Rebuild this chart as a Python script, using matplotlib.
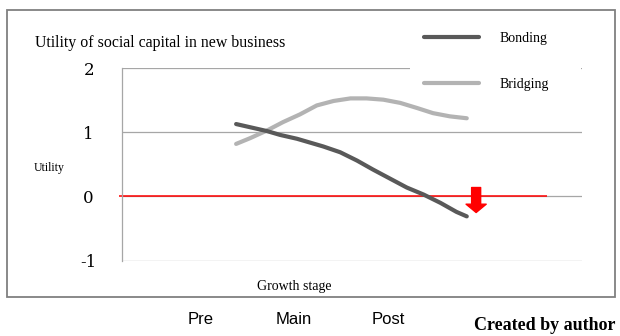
import matplotlib.pyplot as plt
import matplotlib.patches as mpatches
from matplotlib.lines import Line2D

# stage positions on the x axis (Pre = 0, Main = 1, Post = 2)
stages = ['Pre', 'Main', 'Post']
stage_pos = [0, 1, 2]

bonding_x = [0.38, 0.53, 0.71, 0.85, 1.03, 1.31, 1.49, 1.67, 1.84, 2.02, 2.20, 2.38, 2.56, 2.73, 2.84]
bonding_y = [1.13, 1.08, 1.02, 0.96, 0.90, 0.78, 0.69, 0.56, 0.42, 0.28, 0.14, 0.03, -0.10, -0.24, -0.31]

bridging_x = [0.38, 0.53, 0.71, 0.88, 1.06, 1.24, 1.42, 1.60, 1.77, 1.95, 2.13, 2.31, 2.48, 2.66, 2.84]
bridging_y = [0.82, 0.91, 1.03, 1.16, 1.28, 1.42, 1.49, 1.53, 1.53, 1.51, 1.46, 1.38, 1.30, 1.25, 1.22]

utility_ticks = [-1, 0, 1, 2]
utility_labels = ['-1', '0', '1', '2']

# red zero line and the drop arrow after Post
zero_line = (-0.87, 3.70)
drop_x = 2.94
drop_from, drop_to = 0.14, -0.25

SERIF = 'Liberation Serif'
DARK = '#595959'
LIGHT = '#b3b3b3'
GRID = '#a6a6a6'

fig = plt.figure(figsize=(6.2, 3.36), dpi=100)
ax = fig.add_axes([122 / 620, 1 - 261 / 336, 460 / 620, 193 / 336])

ax.set_xlim(-0.837, 4.069)
ax.set_ylim(-1.006, 2.004)

ax.yaxis.grid(True, color=GRID, linewidth=0.9)
ax.set_axisbelow(True)
for side in ['top', 'right', 'bottom']:
    ax.spines[side].set_visible(False)
ax.spines['left'].set_color(GRID)
ax.spines['left'].set_linewidth(0.9)
ax.spines['left'].set_bounds(-1, 2)

ax.plot(bonding_x, bonding_y, color=DARK, linewidth=3.0,
        solid_capstyle='round', solid_joinstyle='round', zorder=3)
ax.plot(bridging_x, bridging_y, color=LIGHT, linewidth=3.0,
        solid_capstyle='round', solid_joinstyle='round', zorder=2)

ax.hlines(0, zero_line[0], zero_line[1], color='#ff0000', linewidth=1.1,
          zorder=1.5, clip_on=False)

ax.annotate('', xy=(drop_x, drop_to), xytext=(drop_x, drop_from),
            arrowprops=dict(arrowstyle='simple,head_width=1.45,head_length=0.6,tail_width=0.65',
                            color='#ff0000', shrinkA=0, shrinkB=0, mutation_scale=10),
            zorder=4)

ax.set_yticks(utility_ticks)
ax.set_yticklabels(utility_labels, family='DejaVu Serif', fontsize=12)
ax.tick_params(axis='y', length=0, pad=24)
for lbl in ax.get_yticklabels():
    lbl.set_horizontalalignment('center')

ax.set_xticks(stage_pos)
ax.set_xticklabels(stages, family='Liberation Sans', fontsize=12)
ax.tick_params(axis='x', length=0, pad=37)

ax.set_ylabel('Utility', family=SERIF, fontsize=8.5, rotation=0, va='center', ha='center')
ax.yaxis.set_label_coords(-0.159, 0.48)
ax.set_xlabel('Growth stage', family=SERIF, fontsize=10)
ax.xaxis.set_label_coords(0.374, -0.098)

# legend sits on a white box that hides the top grid line but stays under the curves
handles = [Line2D([], [], color=DARK, linewidth=3.0, solid_capstyle='round'),
           Line2D([], [], color=LIGHT, linewidth=3.0, solid_capstyle='round')]
leg = ax.legend(handles, ['Bonding', 'Bridging'], loc='upper left',
                bbox_to_anchor=(403 / 620, 1 - 91 / 336, 185 / 620, 80 / 336),
                bbox_transform=fig.transFigure,
                mode='expand', prop={'family': SERIF, 'size': 10},
                handlelength=4.0, handletextpad=1.45, labelspacing=2.4,
                borderpad=1.0, frameon=True, fancybox=False)
leg.get_frame().set_facecolor('white')
leg.get_frame().set_edgecolor('none')
leg.get_frame().set_alpha(1)
leg.set_zorder(1.8)

fig.text(35 / 620, 1 - 43 / 336, 'Utility of social capital in new business',
         family=SERIF, fontsize=11.4, ha='left', va='center')

fig.text(615 / 620, 1 - 325 / 336, 'Created by author', family=SERIF,
         fontsize=13, fontweight='bold', ha='right', va='center')

border = mpatches.Rectangle((7 / 620, 1 - 297 / 336), 608 / 620, 287 / 336,
                            transform=fig.transFigure, fill=False,
                            edgecolor='#808080', linewidth=1.3, zorder=10)
fig.patches.append(border)

fig.savefig('out.png', dpi=100)
